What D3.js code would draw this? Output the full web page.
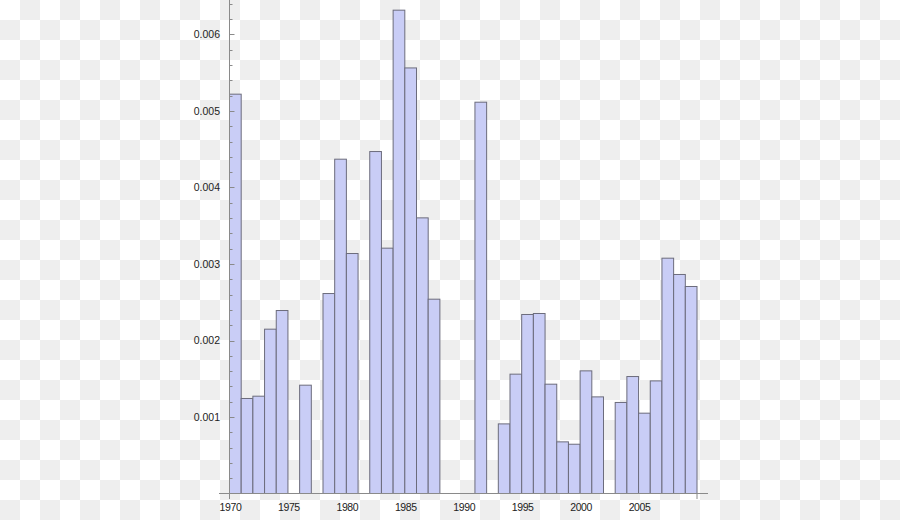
<!DOCTYPE html>
<html>
<head>
<meta charset="utf-8">
<script src="https://cdn.jsdelivr.net/npm/d3@7"></script>
<style>
  html, body { margin: 0; padding: 0; background: #fff; }
  svg { display: block; }
  text { font-family: "Liberation Sans", Arial, sans-serif; fill: #222; }
</style>
</head>
<body>
<svg id="chart" width="900" height="520"></svg>
<script>
// ---- data ----
const years = d3.range(1970, 2010);
const values = [
  0.00522, 0.001242, 0.001272, 0.002148, 0.002392, 0, 0.001416, 0, 0.002614, 0.00437,
  0.003137, 0, 0.00447, 0.003207, 0.006318, 0.005563, 0.003603, 0.00254, 0, 0,
  0, 0.005115, 0, 0.00091, 0.00156, 0.00234, 0.002353, 0.001429, 0.000675, 0.000644,
  0.001603, 0.001263, 0, 0.00119, 0.001529, 0.00105, 0.001472, 0.003076, 0.002863, 0.002706
];
const yTickValues = [0.001, 0.002, 0.003, 0.004, 0.005, 0.006];
const xTickValues = [1970, 1975, 1980, 1985, 1990, 1995, 2000, 2005];

const svg = d3.select("#chart");

// checkerboard background
const defs = svg.append("defs");
const pat = defs.append("pattern").attr("id", "checker")
  .attr("width", 40).attr("height", 40).attr("patternUnits", "userSpaceOnUse");
pat.append("rect").attr("width", 40).attr("height", 40).attr("fill", "#ffffff");
pat.append("rect").attr("x", 20).attr("y", 0).attr("width", 20).attr("height", 20).attr("fill", "#eeeeee");
pat.append("rect").attr("x", 0).attr("y", 20).attr("width", 20).attr("height", 20).attr("fill", "#eeeeee");
svg.append("rect").attr("width", 900).attr("height", 520).attr("fill", "url(#checker)");

// scales
const x = d3.scaleLinear().domain([1970, 2010]).range([229.5, 697]);
const y = d3.scaleLinear().domain([0, 0.0065]).range([493.5, 493.5 - 0.0065 * 76500]);

// bars
svg.append("g").selectAll("rect")
  .data(years.map((yr, i) => ({ yr, v: values[i] })).filter(d => d.v > 0))
  .join("rect")
  .attr("x", d => x(d.yr))
  .attr("y", d => y(d.v))
  .attr("width", d => x(d.yr + 1) - x(d.yr))
  .attr("height", d => y(0) - y(d.v))
  .attr("fill", "#c9cdf6")
  .attr("stroke", "#6c6c7c")
  .attr("stroke-width", 1);

// y axis (minor and major ticks inward)
const yMinor = d3.range(1, 33).map(k => k * 0.0002).filter(v => Math.abs(v * 1000 - Math.round(v * 1000)) > 1e-9);
const yAxisG = svg.append("g");
yAxisG.append("line").attr("x1", 229.5).attr("x2", 229.5).attr("y1", 0).attr("y2", 499)
  .attr("stroke", "#8a8a8a").attr("stroke-width", 1);
yAxisG.selectAll("line.minor").data(yMinor).join("line").attr("class", "minor")
  .attr("x1", 229.5).attr("x2", 232.5)
  .attr("y1", d => Math.round(y(d)) + 0.5).attr("y2", d => Math.round(y(d)) + 0.5)
  .attr("stroke", "#8a8a8a");
yAxisG.selectAll("line.major").data(yTickValues).join("line").attr("class", "major")
  .attr("x1", 229.5).attr("x2", 234.5)
  .attr("y1", d => Math.round(y(d)) + 0.5).attr("y2", d => Math.round(y(d)) + 0.5)
  .attr("stroke", "#8a8a8a");
yAxisG.selectAll("text").data(yTickValues).join("text")
  .attr("x", 220).attr("y", d => y(d)).attr("dy", "0.35em")
  .attr("text-anchor", "end").attr("font-size", 10.5)
  .text(d => d3.format(".3f")(d));

// x axis
const xAxisG = svg.append("g");
xAxisG.append("line").attr("x1", 219).attr("x2", 708).attr("y1", 493.5).attr("y2", 493.5)
  .attr("stroke", "#8a8a8a");
xAxisG.append("line").attr("x1", x(2010)).attr("x2", x(2010)).attr("y1", 493.5).attr("y2", 499)
  .attr("stroke", "#8a8a8a");
xAxisG.selectAll("text").data(xTickValues).join("text")
  .attr("x", d => x(d) + 1).attr("y", 511)
  .attr("text-anchor", "middle").attr("font-size", 10.5)
  .attr("letter-spacing", "-0.4")
  .text(d => d);
</script>
</body>
</html>
